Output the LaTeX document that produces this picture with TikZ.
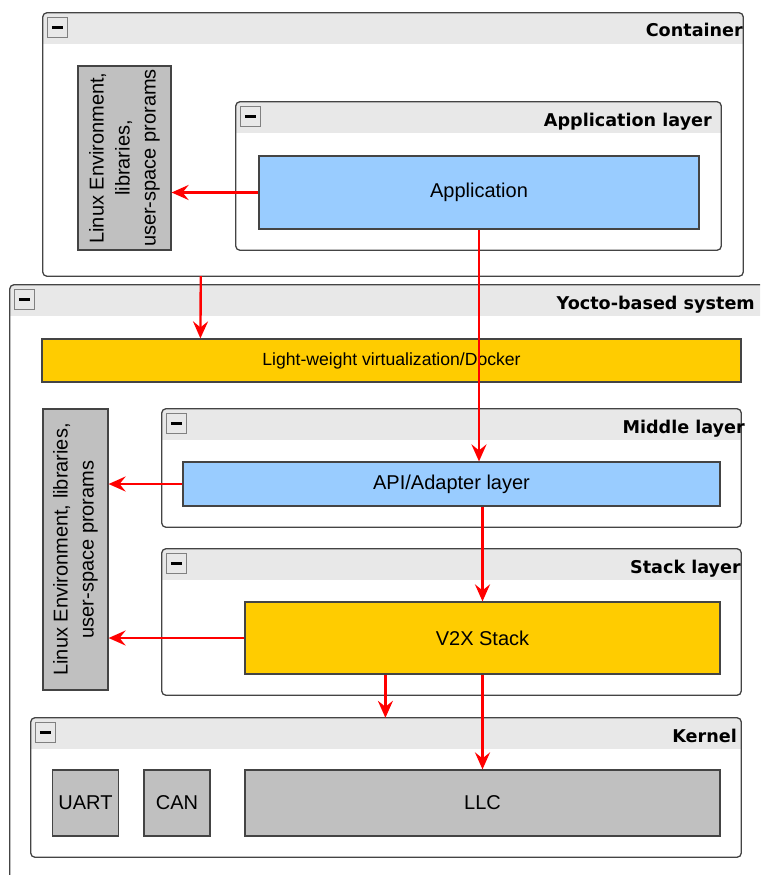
\documentclass[tikz,border=0pt]{standalone}
\usepackage{fontspec}
\setmainfont{Liberation Sans}
\newfontfamily\headfont{DejaVu Sans}
\usetikzlibrary{arrows.meta,fit}
\definecolor{appblue}{HTML}{99CCFF}
\definecolor{stackyellow}{HTML}{FFCC00}
\definecolor{osgray}{HTML}{C0C0C0}
\definecolor{headgray}{HTML}{E8E8E8}
\definecolor{edge}{HTML}{444444}

\begin{document}
\begin{tikzpicture}[x=1pt,y=-1pt,
  font=\fontsize{20}{26}\selectfont,
  layer/.style={draw=edge,line width=1.3pt,rounded corners=4pt},
  box/.style={draw=edge,line width=1.2pt,inner sep=0pt},
  minusbox/.style={draw=gray,fill=headgray,line width=1pt,minimum size=20pt,inner sep=0pt},
  title/.style={font=\headfont\bfseries\fontsize{17.6}{21}\selectfont,inner sep=0pt},
  flow/.style={draw=red,line width=2.4pt,-{Stealth[length=17pt,width=15pt,inset=6pt]}}]

\useasboundingbox (0,0) rectangle (760,875);
\clip (0,0) rectangle (760,875);

% layers with header band
\foreach \n/\xa/\ya/\xb/\yb/\tx/\ttl in {
  cont/43/13/743/276/743/Container,
  applay/236/102/721/250/712/Application layer,
  yocto/10/285/775/895/755/Yocto-based system,
  mid/162/409/741/527/745/Middle layer,
  stk/162/549/741/695/741/Stack layer,
  kern/31/718/741/857/737/Kernel}{
  \node[fit={(\xa,\ya) (\xb,\yb)},inner sep=0pt] (\n) {};
  \begin{scope}
    \clip[rounded corners=4pt] (\n.north west) rectangle (\n.south east);
    \fill[headgray] (\n.north west) rectangle ([yshift=-31pt]\n.north east);
  \end{scope}
  \draw[layer] (\n.north west) rectangle (\n.south east);
  \node[minusbox] at ([xshift=14.5pt,yshift=-15pt]\n.north west) {\rule{11pt}{3pt}};
  \node[title,anchor=base east] at (\tx,\ya+24) {\ttl};
}

% blocks
\node[box,fill=osgray,minimum width=93pt,minimum height=184pt] (lin1) at (124.5,158) {};
\node[rotate=90,align=center] at (lin1) {Linux Environment,\\libraries,\\user-space prorams};
\node[box,fill=appblue,minimum width=440pt,minimum height=73pt] (app) at (479,192.5) {Application};
\node[box,fill=stackyellow,minimum width=699pt,minimum height=43pt,
      font=\fontsize{17.6}{21}\selectfont] (dock) at (391.5,360.5) {Light-weight virtualization/Docker};
\node[box,fill=osgray,minimum width=65pt,minimum height=281pt] (lin2) at (75.5,549.5) {};
\node[rotate=90,align=center] at (lin2) {Linux Environment, libraries,\\user-space prorams};
\node[box,fill=appblue,minimum width=537pt,minimum height=44pt] (api) at (451.5,484) {API/Adapter layer};
\node[box,fill=stackyellow,minimum width=475pt,minimum height=72pt] (v2x) at (482.5,638) {V2X Stack};
\node[box,fill=osgray,minimum size=66pt] (uart) at (85.5,803) {UART};
\node[box,fill=osgray,minimum size=66pt] (can) at (177,803) {CAN};
\node[box,fill=osgray,minimum width=475pt,minimum height=66pt] (llc) at (482.5,803) {LLC};

% calls
\draw[flow] (app.west) -- (app.west -| lin1.east);
\draw[flow] ([xshift=158pt]cont.south west) -- ([xshift=159pt]dock.north west);
\draw[flow] (app.south) -- (app.south |- api.north);
\draw[flow] (api.west) -- (api.west -| lin2.east);
\draw[flow] (v2x.north |- api.south) -- (v2x.north);
\draw[flow] (v2x.west) -- (v2x.west -| lin2.east);
\draw[flow] ([xshift=141pt]v2x.south west) coordinate (drop) -- (drop |- kern.north);
\draw[flow] (v2x.south) -- (llc.north);
\end{tikzpicture}
\end{document}
